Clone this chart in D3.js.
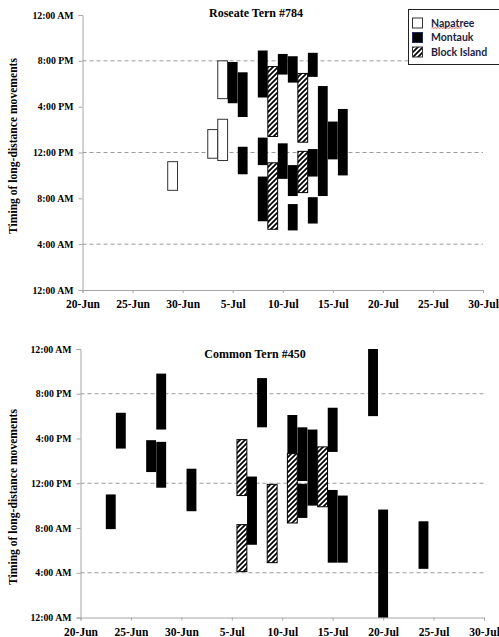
<!DOCTYPE html>
<html>
<head>
<meta charset="utf-8">
<script src="https://cdn.jsdelivr.net/npm/d3@7"></script>
<style>
  html, body { margin: 0; padding: 0; background: #fff; }
  svg { display: block; }
</style>
</head>
<body>
<svg id="chart" width="499" height="637"></svg>
<script>
// ---------- DATA ----------
const xTickDates = ["2012-06-20","2012-06-25","2012-06-30","2012-07-05","2012-07-10","2012-07-15","2012-07-20","2012-07-25","2012-07-30"];
const xTickLabels = ["20-Jun","25-Jun","30-Jun","5-Jul","10-Jul","15-Jul","20-Jul","25-Jul","30-Jul"];
const yTickHours = [0, 4, 8, 12, 16, 20, 24];
const yTickLabels = ["12:00 AM","4:00 AM","8:00 AM","12:00 PM","4:00 PM","8:00 PM","12:00 AM"];
const gridHours = [4, 12, 20];
const sites = ["Napatree", "Montauk", "Block Island"];

// Roseate Tern #784 (start/end in hours of day)
const roseateDates = ["2012-06-29","2012-07-03","2012-07-04","2012-07-04","2012-07-05","2012-07-06","2012-07-06","2012-07-08","2012-07-08","2012-07-08","2012-07-09","2012-07-09","2012-07-10","2012-07-10","2012-07-11","2012-07-11","2012-07-11","2012-07-12","2012-07-12","2012-07-13","2012-07-13","2012-07-13","2012-07-14","2012-07-15","2012-07-16"];
const roseateStart = [8.7, 11.5, 11.3, 16.7, 16.3, 15.1, 10.1, 16.8, 10.9, 6.0, 13.4, 5.3, 18.8, 9.7, 18.1, 8.2, 5.2, 12.9, 8.5, 18.6, 9.9, 5.8, 8.2, 11.4, 10.0];
const roseateEnd   = [11.2, 14.0, 14.9, 20.0, 19.9, 19.0, 12.5, 20.9, 13.3, 9.9, 19.5, 11.1, 20.6, 12.8, 20.4, 10.9, 7.5, 18.9, 12.1, 20.7, 12.3, 8.1, 17.8, 14.7, 15.8];
const roseateSite  = ["Napatree","Napatree","Napatree","Napatree","Montauk","Montauk","Montauk","Montauk","Montauk","Montauk","Block Island","Block Island","Montauk","Montauk","Montauk","Montauk","Montauk","Block Island","Block Island","Montauk","Montauk","Montauk","Montauk","Montauk","Montauk"];

// Common Tern #450
const commonDates = ["2012-06-23","2012-06-24","2012-06-27","2012-06-28","2012-06-28","2012-07-01","2012-07-06","2012-07-06","2012-07-07","2012-07-08","2012-07-09","2012-07-11","2012-07-11","2012-07-13","2012-07-12","2012-07-12","2012-07-14","2012-07-15","2012-07-15","2012-07-16","2012-07-19","2012-07-20","2012-07-24"];
const commonStart = [7.9, 15.1, 13.0, 16.8, 11.6, 9.5, 10.9, 4.1, 6.5, 17.0, 4.9, 14.65, 8.45, 10.0, 12.2, 8.9, 9.9, 14.8, 4.9, 4.9, 18.0, 0.0, 4.35];
const commonEnd   = [11.0, 18.3, 15.85, 21.8, 15.7, 13.3, 15.9, 8.3, 12.6, 21.4, 11.9, 18.1, 14.65, 16.8, 17.0, 11.95, 15.25, 18.75, 11.4, 10.9, 24.0, 9.65, 8.6];
const commonSite  = ["Montauk","Montauk","Montauk","Montauk","Montauk","Montauk","Block Island","Block Island","Montauk","Montauk","Block Island","Montauk","Block Island","Montauk","Montauk","Montauk","Block Island","Montauk","Montauk","Montauk","Montauk","Montauk","Montauk"];

// ---------- DRAW ----------
const parse = d3.timeParse("%Y-%m-%d");
const svg = d3.select("#chart");
const defs = svg.append("defs");
const pat = defs.append("pattern")
  .attr("id", "hatch").attr("patternUnits", "userSpaceOnUse")
  .attr("width", 5).attr("height", 5);
pat.append("rect").attr("width", 5).attr("height", 5).attr("fill", "#fff");
pat.append("path").attr("d", "M-1,6 L6,-1 M-2,2 L2,-2 M3,7 L7,3")
  .attr("stroke", "#000").attr("stroke-width", 1.7);

const serif = "'Liberation Serif', 'Times New Roman', serif";
const fillFor = s => s === "Napatree" ? "#fff" : (s === "Montauk" ? "#000" : "url(#hatch)");
const strokeFor = s => s === "Napatree" ? "#333" : "#000";

function drawChart(cfg) {
  const g = svg.append("g");
  const x = d3.scaleTime().domain([parse(xTickDates[0]), parse(xTickDates[xTickDates.length - 1])]).range([cfg.x0, cfg.x1]);
  const y = d3.scaleLinear().domain([0, 24]).range([cfg.y0, cfg.y1]);

  // grid
  g.selectAll(".grid").data(gridHours).join("line")
    .attr("x1", cfg.x0).attr("x2", cfg.x1)
    .attr("y1", d => y(d)).attr("y2", d => y(d))
    .attr("stroke", "#9a9a9a").attr("stroke-width", 1).attr("stroke-dasharray", "4,3");

  // y axis
  const yAxis = d3.axisLeft(y).tickValues(yTickHours).tickSize(4).tickPadding(5)
    .tickFormat((d, i) => yTickLabels[i]);
  const ya = g.append("g").attr("transform", `translate(${cfg.x0},0)`).call(yAxis);
  ya.select(".domain").attr("stroke", "#a6a6a6");
  ya.selectAll(".tick line").attr("stroke", "#a6a6a6");
  ya.selectAll(".tick text").attr("font-family", serif).attr("font-weight", "bold")
    .attr("font-size", "9.8px").attr("fill", "#000");

  // x axis
  const xAxis = d3.axisBottom(x).tickValues(xTickDates.map(parse)).tickSize(3).tickPadding(7)
    .tickFormat((d, i) => xTickLabels[i]);
  const xa = g.append("g").attr("transform", `translate(0,${cfg.y0})`).call(xAxis);
  xa.select(".domain").attr("stroke", "#a6a6a6");
  xa.selectAll(".tick line").attr("stroke", "#a6a6a6");
  xa.selectAll(".tick text").attr("font-family", serif).attr("font-weight", "bold")
    .attr("font-size", "11.5px").attr("fill", "#000");

  // bars
  const half = 12 * 3600 * 1000 * 0.98;
  const rows = cfg.dates.map((d, i) => ({ date: parse(d), s: cfg.start[i], e: cfg.end[i], site: cfg.site[i] }));
  g.selectAll(".bar").data(rows).join("rect")
    .attr("x", d => x(new Date(d.date.getTime() - half)))
    .attr("width", d => x(new Date(d.date.getTime() + half)) - x(new Date(d.date.getTime() - half)))
    .attr("y", d => y(d.e))
    .attr("height", d => y(d.s) - y(d.e))
    .attr("fill", d => fillFor(d.site))
    .attr("stroke", d => strokeFor(d.site))
    .attr("stroke-width", d => d.site === "Montauk" ? 0 : 1);

  // title
  g.append("text").attr("x", cfg.titleX).attr("y", cfg.titleY)
    .attr("text-anchor", "middle").attr("font-family", serif).attr("font-weight", "bold")
    .attr("font-size", "12px").text(cfg.title);

  // y title
  g.append("text").attr("transform", `translate(17,${cfg.yTitleY}) rotate(-90)`)
    .attr("text-anchor", "middle").attr("font-family", serif).attr("font-weight", "bold")
    .attr("font-size", "11.6px").text("Timing of long-distance movements");
}

drawChart({ x0: 82.5, x1: 483, y0: 290, y1: 15, dates: roseateDates, start: roseateStart, end: roseateEnd, site: roseateSite,
  title: "Roseate Tern #784", titleX: 256, titleY: 17, yTitleY: 146 });
drawChart({ x0: 80.5, x1: 484, y0: 617.5, y1: 349, dates: commonDates, start: commonStart, end: commonEnd, site: commonSite,
  title: "Common Tern #450", titleX: 255, titleY: 358, yTitleY: 497 });

// legend
const lg = svg.append("g");
lg.append("rect").attr("x", 408.5).attr("y", 9.5).attr("width", 100).attr("height", 55)
  .attr("fill", "#fff").attr("stroke", "#222").attr("stroke-width", 1);
const legY = [23, 37.5, 52];
sites.forEach((s, i) => {
  lg.append("rect").attr("x", 412.5).attr("y", legY[i] - 5).attr("width", 10).attr("height", 10)
    .attr("fill", fillFor(s)).attr("stroke", s === "Montauk" ? "#1c2a5a" : "#333").attr("stroke-width", 1);
  lg.append("text").attr("x", 431).attr("y", legY[i] + 3.5)
    .attr("font-family", "Lato, 'Liberation Sans', sans-serif").attr("font-weight", "bold")
    .attr("font-size", "10.5px").attr("fill", "#1c2340").text(s);
});
// spell-check squiggle under "Napatree"
let sq = "M431,28.5";
for (let xx = 432; xx <= 463; xx += 1.5) sq += ` L${xx},${(Math.round((xx - 431) / 1.5) % 2 === 0) ? 28.5 : 27.5}`;
lg.append("path").attr("d", sq).attr("fill", "none").attr("stroke", "#e03030").attr("stroke-width", 0.7);
</script>
</body>
</html>
